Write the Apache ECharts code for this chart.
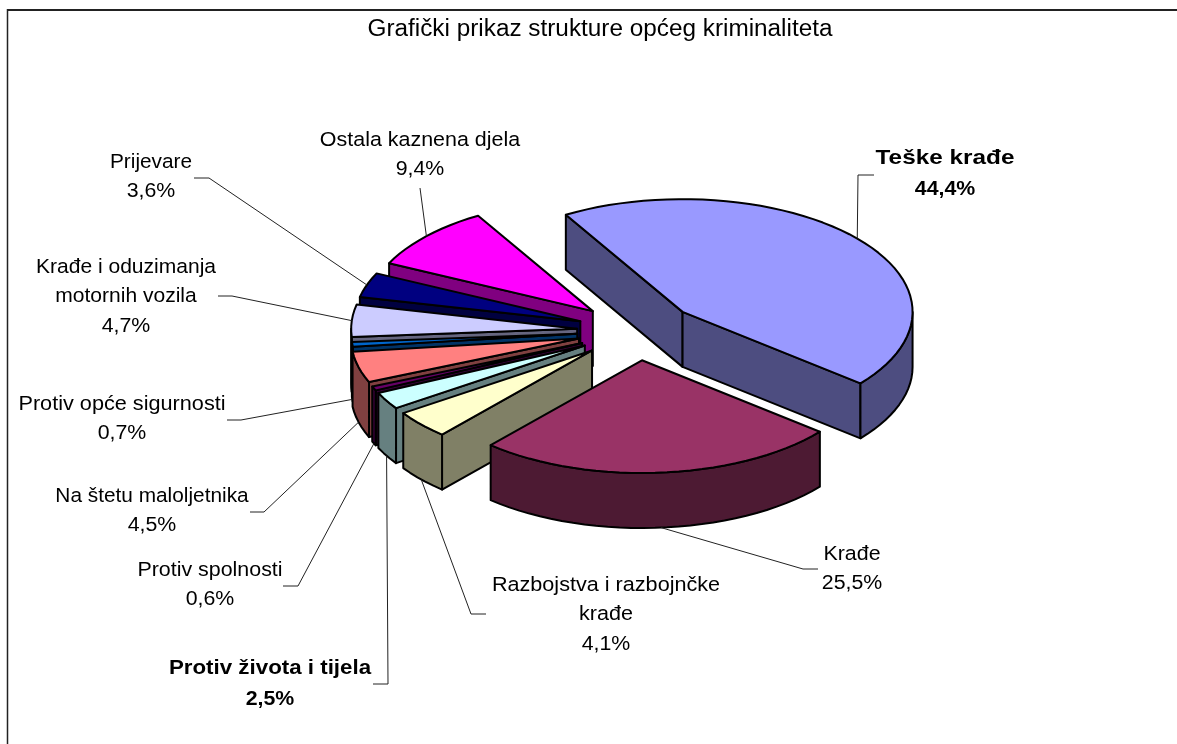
<!DOCTYPE html>
<html><head><meta charset="utf-8">
<style>html,body{margin:0;padding:0;background:#fff}#c{width:1177px;height:744px}</style>
<script src="https://cdn.jsdelivr.net/npm/echarts@6/dist/echarts.min.js"></script>
</head><body><div id="c"></div>
<script>
var chartTitle = 'Grafički prikaz strukture općeg kriminaliteta';
var categories = ['Teške krađe','Krađe','Razbojstva i razbojnčke\nkrađe','Protiv života i tijela','Protiv spolnosti','Na štetu maloljetnika','Protiv opće sigurnosti','Krađe i oduzimanja\nmotornih vozila','Prijevare','Ostala kaznena djela'];
var values = [44.4,25.5,4.1,2.5,0.6,4.5,0.7,4.7,3.6,9.4];
var boldLabels = [true,false,false,true,false,false,false,false,false,false];
var topColors = ['#9999FF','#993366','#FFFFCC','#CCFFFF','#660066','#FF8080','#0066CC','#CCCCFF','#000080','#FF00FF'];
var sideColors = ['#4D4D80','#4D1A33','#808066','#668080','#330033','#804040','#003366','#666680','#000040','#800080'];

// layout
var labelCenters = [[945,158],[852,554],[606,585],[270,668],[210,570],[152,496],[122,404],[126,267],[151,162],[420,140]];
var labelStretch = [1.187,1.043,1.054,1.089,1.044,1.016,1.057,1.026,1.015,1.046];
var leaderElbows = [[[874,175],[858,175]],[[818,569],[803,569]],[[486,614],[471,614]],[[373,684],[388,684]],[[283,586],[298,586]],[[250,512],[264,512]],[[227,420],[241,420]],[[218,296],[232,296]],[[194,178],[209,178]],[[420,188]]];
var sliceRadii = [230,230,228,228,228,228,226,226,226,226];
var CX=637, CY=331, SQUASH=0.49, EXPLODE=60, DEPTH=55, START=-120.5;
var FONT='"Liberation Sans", Arial, sans-serif';

var total = values.reduce(function(a,b){return a+b;},0);
var rad = function(d){return d*Math.PI/180;};
var ranges=[]; (function(){var a=START; values.forEach(function(v){var b=a+v/total*360; ranges.push([a,b]); a=b;});})();
var order = values.map(function(_,i){return i;}).sort(function(p,q){
  return Math.sin(rad((ranges[p][0]+ranges[p][1])/2))-Math.sin(rad((ranges[q][0]+ranges[q][1])/2));});

function renderSlice(params, api){
  var i=params.dataIndex, a0=ranges[i][0], a1=ranges[i][1], mid=(a0+a1)/2, RX=sliceRadii[i];
  var ax=CX+EXPLODE*Math.cos(rad(mid)), ay=CY+EXPLODE*SQUASH*Math.sin(rad(mid));
  var pt=function(d){return [ax+RX*Math.cos(rad(d)), ay+RX*SQUASH*Math.sin(rad(d))];};
  var down=function(p){return [p[0],p[1]+DEPTH];};
  var arc=function(s,e){var out=[],n=Math.max(1,Math.ceil((e-s)/3));for(var k=0;k<=n;k++)out.push(pt(s+(e-s)*k/n));return out;};
  var base=(order.indexOf(i)+1)*10;
  var line={stroke:'#000',lineWidth:2,lineJoin:'round'};
  var poly=function(pts,fill,k){return {type:'polygon',z2:base+k,shape:{points:pts},style:Object.assign({fill:fill},line)};};
  var kids=[], apex=[ax,ay];
  if(Math.cos(rad(a0))<0){var c0=pt(a0);kids.push(poly([apex,c0,down(c0),down(apex)],sideColors[i],0));}
  if(Math.cos(rad(a1))>0){var c1=pt(a1);kids.push(poly([apex,c1,down(c1),down(apex)],sideColors[i],1));}
  var rs=Math.max(a0,0), re=Math.min(a1,180);
  if(re>rs){var top=arc(rs,re);kids.push(poly(top.concat(top.slice().reverse().map(down)),sideColors[i],2));}
  kids.push(poly([apex].concat(arc(a0,a1)),topColors[i],3));
  // leader line, ending on the slice rim
  var rim=pt(mid); if(Math.sin(rad(mid))>0) rim=down(rim);
  kids.push({type:'polyline',z2:500,shape:{points:leaderElbows[i].concat([rim])},style:{stroke:'#222',lineWidth:1,fill:null}});
  // label lines
  var names=categories[i].split('\n'), step=boldLabels[i]?31:29.5;
  var font=(boldLabels[i]?'bold ':'')+'20.5px '+FONT;
  names.concat([api.value(0).toFixed(1).replace('.',',')+'%']).forEach(function(t,k){
    kids.push({type:'text',z2:600,x:labelCenters[i][0],y:labelCenters[i][1]+k*step,
      scaleX:k<names.length?labelStretch[i]:1.04,
      style:{text:t,fill:'#000',font:font,align:'center',verticalAlign:'middle'}});
  });
  return {type:'group',children:kids};
}
var chart=echarts.init(document.getElementById('c'),null,{renderer:'canvas'});
chart.setOption({
  animation:false, backgroundColor:'#fff',
  graphic:[
    {type:'line',shape:{x1:7,y1:10,x2:1177,y2:10},style:{stroke:'#222',lineWidth:2}},
    {type:'line',shape:{x1:7.5,y1:9,x2:7.5,y2:744},style:{stroke:'#222',lineWidth:1.5}},
    {type:'text',x:600,y:30,scaleX:1.035,style:{text:chartTitle,fill:'#000',font:'23.5px '+FONT,align:'center',verticalAlign:'middle'}}
  ],
  series:[{type:'custom',coordinateSystem:'none',silent:true,data:values,renderItem:renderSlice}]
});
</script></body></html>
